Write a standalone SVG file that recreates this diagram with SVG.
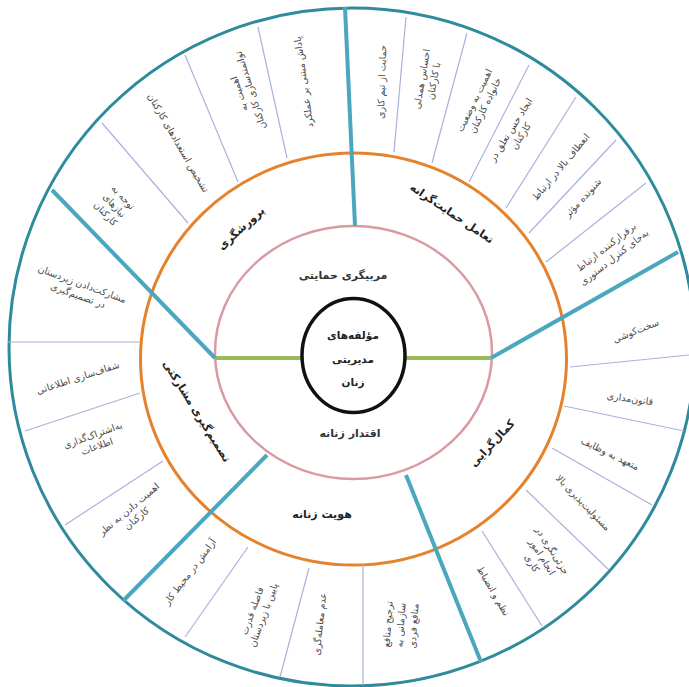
<svg xmlns="http://www.w3.org/2000/svg" width="689" height="687" viewBox="0 0 689 687">
<style>
.bg{fill:#ffffff}
.outer{fill:none;stroke:#2f8b9c;stroke-width:3}
.orange{fill:none;stroke:#e5822e;stroke-width:3}
.pink{fill:none;stroke:#d99aa2;stroke-width:2.5}
.core{fill:none;stroke:#111111;stroke-width:3.5}
.spoke{stroke:#4aa7bd;stroke-width:4;stroke-linecap:butt}
.div{stroke:#a8b2dc;stroke-width:1.2}
.green{stroke:#9ab95a;stroke-width:4}
text{font-family:"DejaVu Sans","Noto Sans",sans-serif;text-anchor:middle}
.item{font-size:9.5px;fill:#4a4a4a}
.cat{font-size:11px;font-weight:bold;fill:#222}
.in{font-size:11px;font-weight:bold;fill:#333}
.ctr{font-size:10.5px;font-weight:bold;fill:#222}
</style>
<rect class="bg" x="0" y="0" width="689" height="687"/>
<g id="rings">
<ellipse class="outer" cx="352" cy="347" rx="343" ry="339"/>
<ellipse class="orange" cx="353.5" cy="359" rx="213" ry="206"/>
<ellipse class="pink" cx="353.5" cy="352.5" rx="138.5" ry="126.5"/>
</g>
<g id="connectors">
<line class="green" x1="215" y1="358" x2="302" y2="358"/>
<line class="green" x1="405" y1="358" x2="491" y2="358"/>
<line class="spoke" x1="355" y1="226" x2="345" y2="7"/>
<line class="spoke" x1="491" y1="358" x2="678" y2="252"/>
<line class="spoke" x1="406" y1="475" x2="481" y2="662"/>
<line class="spoke" x1="267" y1="455" x2="123" y2="601"/>
<line class="spoke" x1="215" y1="358" x2="52" y2="190"/>
<line class="div" x1="102" y1="123" x2="188" y2="223"/>
<line class="div" x1="185" y1="55" x2="238" y2="182"/>
<line class="div" x1="258" y1="27" x2="287" y2="158"/>
<line class="div" x1="406" y1="17" x2="394" y2="152"/>
<line class="div" x1="467" y1="33" x2="432" y2="163"/>
<line class="div" x1="529" y1="65" x2="469" y2="182"/>
<line class="div" x1="576" y1="97" x2="506" y2="208"/>
<line class="div" x1="616" y1="140" x2="529" y2="233"/>
<line class="div" x1="646" y1="183" x2="546" y2="262"/>
<line class="div" x1="570" y1="367" x2="689" y2="355"/>
<line class="div" x1="564" y1="406" x2="684" y2="431"/>
<line class="div" x1="552" y1="448" x2="652" y2="505"/>
<line class="div" x1="526" y1="490" x2="609" y2="570"/>
<line class="div" x1="482" y1="531" x2="542" y2="626"/>
<line class="div" x1="363" y1="565" x2="363" y2="685"/>
<line class="div" x1="309" y1="568" x2="280" y2="677"/>
<line class="div" x1="248" y1="547" x2="185" y2="637"/>
<line class="div" x1="163" y1="461" x2="65" y2="525"/>
<line class="div" x1="140" y1="393" x2="25" y2="431"/>
<line class="div" x1="8" y1="342" x2="140" y2="342"/>
</g>
<g id="center">
<ellipse class="core" cx="353.5" cy="355.5" rx="51.5" ry="57"/>
<text class="ctr" x="353" y="339">مؤلفه‌های</text>
<text class="ctr" x="353" y="363">مدیریتی</text>
<text class="ctr" x="353" y="386">زنان</text>
</g>
<g id="inner-top"><text class="in" x="343" y="279">مربیگری حمایتی</text></g>
<g id="inner-bottom"><text class="in" x="350" y="437">اقتدار زنانه</text></g>
<g id="cat-parvareshgari"><text class="cat" transform="translate(241,228) rotate(-42)" y="4">پرورشگری</text></g>
<g id="cat-taamol"><text class="cat" transform="translate(452,213) rotate(34)" y="4">تعامل حمایت‌گرانه</text></g>
<g id="cat-kamal"><text class="cat" transform="translate(492,443) rotate(-47)" y="4">کمال‌گرایی</text></g>
<g id="cat-hoviat"><text class="cat" x="322" y="518">هویت زنانه</text></g>
<g id="cat-tasmim"><text class="cat" transform="translate(197,411) rotate(58)" y="4">تصمیم‌گیری مشارکتی</text></g>
<g id="i1"><text class="item" transform="translate(115,205) rotate(47)"><tspan x="0" dy="-8">توجه به</tspan><tspan x="0" dy="12">نیازهای</tspan><tspan x="0" dy="12">کارکنان</tspan></text></g>
<g id="i2"><text class="item" transform="translate(178,143) rotate(60)" y="3">تشخیص استعدادهای کارکنان</text></g>
<g id="i3"><text class="item" transform="translate(245,92) rotate(-108)"><tspan x="0" dy="-3">اهمیت به</tspan><tspan x="0" dy="12">توانمندسازی کارکنان</tspan></text></g>
<g id="i4"><text class="item" transform="translate(304,82) rotate(-98)" y="3">پاداش مبتنی بر عملکرد</text></g>
<g id="i5"><text class="item" transform="translate(382,82) rotate(-88)" y="3">حمایت از تیم کاری</text></g>
<g id="i6"><text class="item" transform="translate(428,80) rotate(-80)"><tspan x="0" dy="-3">احساس همدلی</tspan><tspan x="0" dy="12">با کارکنان</tspan></text></g>
<g id="i7"><text class="item" transform="translate(480,103) rotate(-64)"><tspan x="0" dy="-3">اهمیت به وضعیت</tspan><tspan x="0" dy="12">خانواده کارکنان</tspan></text></g>
<g id="i8"><text class="item" transform="translate(516,133) rotate(-58)"><tspan x="0" dy="-3">ایجاد حس تعلق در</tspan><tspan x="0" dy="12">کارکنان</tspan></text></g>
<g id="i9"><text class="item" transform="translate(561,167) rotate(-50)" y="3">انعطاف بالا در ارتباط</text></g>
<g id="i10"><text class="item" transform="translate(583,198) rotate(-47)" y="3">شنونده مؤثر</text></g>
<g id="i11"><text class="item" transform="translate(610,252) rotate(-38)"><tspan x="0" dy="-3">برقرارکننده ارتباط</tspan><tspan x="0" dy="13">به‌جای کنترل دستوری</tspan></text></g>
<g id="i12"><text class="item" transform="translate(636,331) rotate(-22)" y="3">سخت‌کوشی</text></g>
<g id="i13"><text class="item" transform="translate(630,399) rotate(8)" y="3">قانون‌مداری</text></g>
<g id="i14"><text class="item" transform="translate(610,454) rotate(26)" y="3">متعهد به وظایف</text></g>
<g id="i15"><text class="item" transform="translate(583,503) rotate(46)" y="3">مسئولیت‌پذیری بالا</text></g>
<g id="i16"><text class="item" transform="translate(542,557) rotate(58)"><tspan x="0" dy="-9">جزئی‌نگری در</tspan><tspan x="0" dy="12">انجام امور</tspan><tspan x="0" dy="12">کاری</tspan></text></g>
<g id="i17"><text class="item" transform="translate(493,591) rotate(60)" y="3">نظم و انضباط</text></g>
<g id="i18"><text class="item" transform="translate(400,625) rotate(-86)"><tspan x="0" dy="-9">ترجیح منافع</tspan><tspan x="0" dy="13">سازمانی به</tspan><tspan x="0" dy="13">منافع فردی</tspan></text></g>
<g id="i19"><text class="item" transform="translate(320,624) rotate(-84)" y="3">عدم معامله‌گری</text></g>
<g id="i20"><text class="item" transform="translate(258,613) rotate(-70)"><tspan x="0" dy="-3">فاصله قدرت</tspan><tspan x="0" dy="12">پایین با زیردستان</tspan></text></g>
<g id="i21"><text class="item" transform="translate(190,572) rotate(-53)" y="3">آرامش در محیط کار</text></g>
<g id="i22"><text class="item" transform="translate(133,514) rotate(-40)"><tspan x="0" dy="-3">اهمیت دادن به نظر</tspan><tspan x="0" dy="12">کارکنان</tspan></text></g>
<g id="i23"><text class="item" transform="translate(95,441) rotate(-20)"><tspan x="0" dy="-3">به‌اشتراک‌گذاری</tspan><tspan x="0" dy="12">اطلاعات</tspan></text></g>
<g id="i24"><text class="item" transform="translate(78,378) rotate(-18)" y="3">شفاف‌سازی اطلاعاتی</text></g>
<g id="i25"><text class="item" transform="translate(80,290) rotate(20)"><tspan x="0" dy="-3">مشارکت‌دادن زیردستان</tspan><tspan x="0" dy="12">در تصمیم‌گیری</tspan></text></g>
</svg>
